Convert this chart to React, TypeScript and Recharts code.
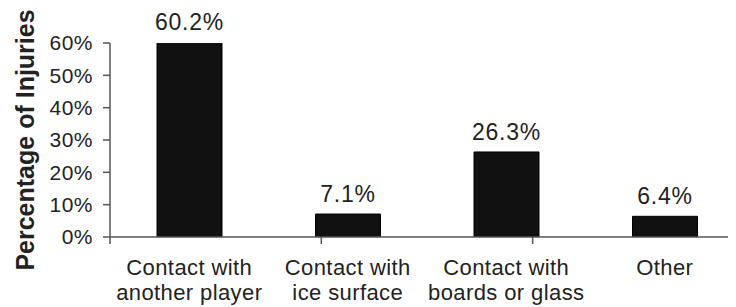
import React from 'react';
import { BarChart, Bar, XAxis, YAxis, LabelList } from 'recharts';

// injury mechanism shares
const categories = [
  'Contact with\nanother player',
  'Contact with\nice surface',
  'Contact with\nboards or glass',
  'Other',
];
const injuryPct = [60.2, 7.1, 26.3, 6.4];
const yTicks = [0, 10, 20, 30, 40, 50, 60];
const edgeTicks = [0, 1, 2, 3, 4];

const data = categories.map((name, i) => ({ name, value: injuryPct[i] }));

const FONT = '"Liberation Sans", Arial, Helvetica, sans-serif';
const INK = '#222';
const AXIS = '#555';

const CategoryTick = ({ x, y, payload }: any) => {
  const lines = String(payload.value).split('\n');
  return (
    <text x={x} y={y} textAnchor="middle" fill={INK} fontSize={22} letterSpacing={0.4} fontFamily={FONT}>
      {lines.map((line, i) => (
        <tspan key={i} x={x} dy={i === 0 ? 37 : 25}>
          {line}
        </tspan>
      ))}
    </text>
  );
};

const YLabel = (props: any) => {
  const vb = props.viewBox || { x: 0, y: 43, width: 110, height: 194 };
  const cx = vb.x + 25;
  const cy = vb.y + vb.height / 2;
  return (
    <text
      x={cx}
      y={cy}
      transform={`rotate(-90, ${cx}, ${cy})`}
      textAnchor="middle"
      dominantBaseline="central"
      fill={INK}
      fontSize={25}
      fontWeight="bold"
      fontFamily={FONT}
    >
      Percentage of Injuries
    </text>
  );
};

export default function App() {
  return (
    <div style={{ marginLeft: -8, marginTop: -8, width: 752, height: 307, background: '#fff' }}>
      <BarChart
        width={752}
        height={307}
        data={data}
        margin={{ top: 43, right: 8, left: 0, bottom: 0 }}
      >
        {/* boundary ticks + axis line, sits right under the plot */}
        <XAxis
          xAxisId={0}
          type="number"
          domain={[0, 4]}
          ticks={edgeTicks}
          tickFormatter={() => ''}
          height={1}
          tickSize={7}
          axisLine={{ stroke: AXIS, strokeWidth: 1.5 }}
          tickLine={{ stroke: AXIS, strokeWidth: 1.5 }}
        />
        {/* category names */}
        <XAxis
          xAxisId={1}
          dataKey="name"
          height={69}
          axisLine={false}
          tickLine={false}
          tickSize={0}
          tickMargin={0}
          interval={0}
          tick={<CategoryTick />}
        />
        <YAxis
          width={110}
          domain={[0, 60]}
          ticks={yTicks}
          allowDataOverflow
          tickFormatter={(v: number) => `${v}%`}
          tickSize={7}
          tickMargin={10}
          tick={{ fontSize: 21, fill: INK, fontFamily: FONT, letterSpacing: 0.5 }}
          axisLine={{ stroke: AXIS, strokeWidth: 1.5 }}
          tickLine={{ stroke: AXIS, strokeWidth: 1.5 }}
          label={YLabel}
        />
        <Bar
          xAxisId={1}
          dataKey="value"
          fill="#111"
          stroke="#000"
          barSize={65}
          isAnimationActive={false}
        >
          <LabelList
            dataKey="value"
            position="top"
            offset={12}
            formatter={(v: any) => `${v}%`}
            fill={INK}
            fontSize={23}
            letterSpacing={0.8}
            fontFamily={FONT}
          />
        </Bar>
      </BarChart>
    </div>
  );
}
